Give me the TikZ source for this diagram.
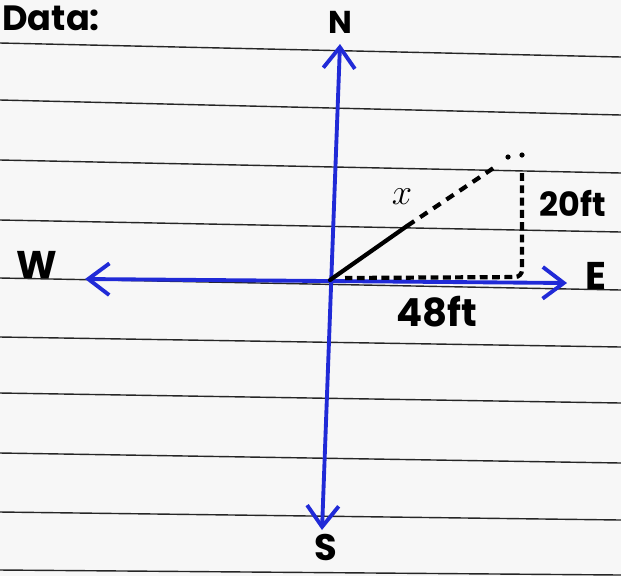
\documentclass[tikz,border=0pt]{standalone}
\usepackage{fontspec}
\setmainfont{Poppins}
\usetikzlibrary{arrows.meta}
\definecolor{penblue}{RGB}{32,42,215}
\begin{document}
\begin{tikzpicture}[x=0.02cm,y=-0.02cm,
  rule/.style={black!85, line width=0.8pt},
  axis/.style={{Straight Barb[length=12pt,width=18pt]}-{Straight Barb[length=12pt,width=18pt]}, penblue, line width=2.2pt},
  pen/.style={black, line width=2.4pt},
  lbl/.style={font=\bfseries\fontsize{22}{22}\selectfont}]
 \useasboundingbox (0,0) rectangle (621,576);
 \clip (0,0) rectangle (621,576);
 \fill[black!3] (0,0) rectangle (621,576);
 % ruled paper
 \foreach \l/\r in {43/57,100/115,160/173,220/232,278/290,337/347,393/403,453/463,512/520,570/575}
   \draw[rule] (0,\l) -- (621,\r);
 \node[lbl, font=\bfseries\fontsize{20}{20}\selectfont, anchor=base west, inner sep=0pt] (data) at (2,30) {Data:};
 % compass axes
 \coordinate (ntip) at (340,44);
 \coordinate (stip) at (322,530);
 \coordinate (wtip) at (85,279);
 \coordinate (etip) at (567,283);
 \draw[axis] (stip) -- (ntip);
 \draw[axis] (wtip) -- (etip);
 \node[lbl, font=\bfseries\fontsize{18}{18}\selectfont] (n) at (340,22) {N};
 \node[lbl] (w) at (37,265) {W};
 \node[lbl] (e) at (596,276) {E};
 \node[lbl, font=\bfseries\fontsize{21}{21}\selectfont, inner sep=0pt, anchor=base] (s) at (326,560) {S};
 % triangle
 \coordinate (o) at (330,280);
 \coordinate (h) at (407,226);
 \coordinate (b) at (495,167);
 \coordinate (c) at (522,173);
 \coordinate (a) at (522,277);
 \coordinate (base) at (345,278);
 \draw[pen, line cap=round] (o) -- (h);
 \draw[pen, dash pattern=on 5pt off 4pt] (h) -- (b);
 \fill (508,157) circle (2.6) (522,155) circle (2.6);
 \draw[pen, dash pattern=on 4.5pt off 2.5pt, rounded corners=4pt] (c) -- (a) -- (base);
 \node[font=\fontsize{22}{22}\selectfont] (x) at (402,197) {$x$};
 \node[lbl, font=\bfseries\fontsize{19}{19}\selectfont, anchor=west] (h20) at (533,203) {20ft};
 \node[lbl] (b48) at (437,312) {48ft};
\end{tikzpicture}
\end{document}
